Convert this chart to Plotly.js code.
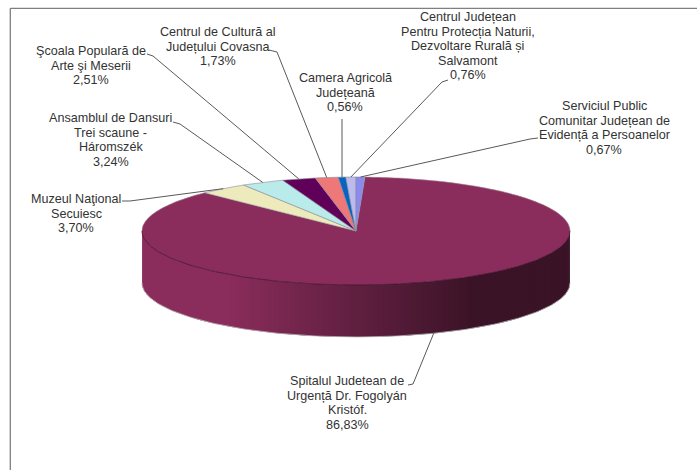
<!DOCTYPE html>
<html><head><meta charset="utf-8">
<script src="https://cdn.plot.ly/plotly-3.0.1.min.js"></script>
<style>html,body{margin:0;padding:0;background:#fff}#c{width:697px;height:470px}</style>
</head><body><div id="c"></div>
<script>
// data
const categories = [
  "Spitalul Judetean de<br>Urgență Dr. Fogolyán<br>Kristóf.",
  "Muzeul Naţional<br>Secuiesc",
  "Ansamblul de Dansuri<br>Trei scaune -<br>Háromszék",
  "Şcoala Populară de<br>Arte şi Meserii",
  "Centrul de Cultură al<br>Județului Covasna",
  "Camera Agricolă<br>Județeană",
  "Centrul Județean<br>Pentru Protecția Naturii,<br>Dezvoltare Rurală și<br>Salvamont",
  "Serviciul Public<br>Comunitar Județean de<br>Evidență a Persoanelor"
];
const values = [86.83, 3.70, 3.24, 2.51, 1.73, 0.56, 0.76, 0.67];
const percentLabels = ["86,83%","3,70%","3,24%","2,51%","1,73%","0,56%","0,76%","0,67%"];
const colors = ["#8B2D5C","#EDEBBB","#B9EBEB","#600058","#EE7777","#0563C1","#BBBBEE","#8B8BEE"];

// layout of the drawing (pixel space of the page)
const cx = 356, cy = 231, rx = 214, ry = 54, depth = 52;
const startDeg = 360 * values[7] / 100;
// label centre x, first line centre y, line pitch
const labelX = [347,76,110.5,91,217.5,345,467.5,604];
const labelY = [381,199,118,51,32,78,17,106];
const linePitch = 14.5;
const elbows = [[[408,385],[413,384]],[[122,201],[130,201]],[[173,122],[180,124]],[[147,54],[153,56]],[[269,50],[277,52]],[[342,119]],[[448,80],[442,82]],[[538,138],[530,139]]];

const rad = d => d * Math.PI / 180;
const px = d => cx + rx * Math.sin(rad(d));
const py = d => cy - ry * Math.cos(rad(d));
const traces = [];
const noHover = {hoverinfo:"skip",showlegend:false};

// front wall, shaded across its width; each strip overlaps the next to avoid seams
const wallSteps = 120;
for (let i = 0; i < wallSteps; i++) {
  const a = 270 - 180 * i / wallSteps, b = Math.max(90, 270 - 180 * (i + 2) / wallSteps);
  const f = (px((a + b) / 2) - (cx - rx)) / (2 * rx);
  const k = f < 0.2 ? 1 : 1 - 0.58 * Math.min(1, (f - 0.2) / 0.58);
  const col = `rgb(${Math.round(139*k)},${Math.round(45*k)},${Math.round(92*k)})`;
  traces.push({x:[px(a),px(b),px(b),px(a),px(a)], y:[py(a),py(b),py(b)+depth,py(a)+depth,py(a)],
    mode:"none", fill:"toself", fillcolor:col, ...noHover});
}
// arc helper
function arc(from, to, off) {
  const xs = [], ys = [], n = Math.max(2, Math.ceil(Math.abs(to - from)));
  for (let j = 0; j <= n; j++) { const d = from + (to - from) * j / n; xs.push(px(d)); ys.push(py(d) + off); }
  return {xs, ys};
}
// lower rim of wall
{
  const r = arc(90, 270, depth);
  traces.push({x:r.xs,y:r.ys,mode:"lines",line:{color:"#BDBDBD",width:0.8},...noHover});
}
// top face slices
let acc = startDeg;
const mids = [];
values.forEach((v,i) => {
  const sweep = v * 3.6, r = arc(acc, acc + sweep, 0);
  const xs = [cx, ...r.xs, cx], ys = [cy, ...r.ys, cy];
  traces.push({x:xs,y:ys,mode:i===0?"none":"lines",fill:"toself",fillcolor:colors[i],
    line:{color:"#8a8a9a",width:0.6},name:categories[i].replace(/<br>/g," "),
    text:percentLabels[i],hoverinfo:"name+text",showlegend:false});
  mids.push(acc + sweep / 2);
  acc += sweep;
});
// edges of the top face of the largest slice
{
  const front = arc(90, 270, 0), right = arc(startDeg, 90, 0), left = arc(270, startDeg + values[0] * 3.6, 0);
  traces.push({x:front.xs,y:front.ys,mode:"lines",line:{color:"#3a1228",width:0.7},...noHover});
  traces.push({x:right.xs,y:right.ys,mode:"lines",line:{color:"#a07c90",width:0.6},...noHover});
  traces.push({x:left.xs,y:left.ys,mode:"lines",line:{color:"#a07c90",width:0.6},...noHover});
}
// leaders
values.forEach((v,i) => {
  const m = mids[i];
  const end = [px(m), py(m) + (i === 0 ? depth : 0)];
  const pts = elbows[i].concat([end]);
  traces.push({x:pts.map(p=>p[0]),y:pts.map(p=>p[1]),mode:"lines",line:{color:"#595959",width:1},...noHover});
});
// labels, one annotation per line for the tighter line pitch
const annotations = [];
categories.forEach((c,i) => {
  (c + "<br>" + percentLabels[i]).split("<br>").forEach((t,j) => annotations.push({
    x:labelX[i], y:labelY[i] + j * linePitch, xref:"x", yref:"y", xanchor:"center", yanchor:"middle",
    text:t, showarrow:false, align:"center",
    font:{family:"Liberation Sans, Arial, sans-serif",size:12.6,color:"#333333"}
  }));
});
const layout = {
  width:697,height:470,margin:{l:0,r:0,t:0,b:0},paper_bgcolor:"#fff",plot_bgcolor:"#fff",showlegend:false,
  xaxis:{range:[0,697],visible:false,fixedrange:true},
  yaxis:{range:[470,0],visible:false,fixedrange:true},
  annotations,
  shapes:[
    {type:"line",xref:"x",yref:"y",x0:10.3,y0:8.3,x1:697,y1:8.3,line:{color:"#7f7f7f",width:1.3}},
    {type:"line",xref:"x",yref:"y",x0:10.3,y0:8.3,x1:10.3,y1:470,line:{color:"#7f7f7f",width:1.3}}
  ]
};
Plotly.newPlot("c",traces,layout,{displayModeBar:false,staticPlot:true});
</script></body></html>
